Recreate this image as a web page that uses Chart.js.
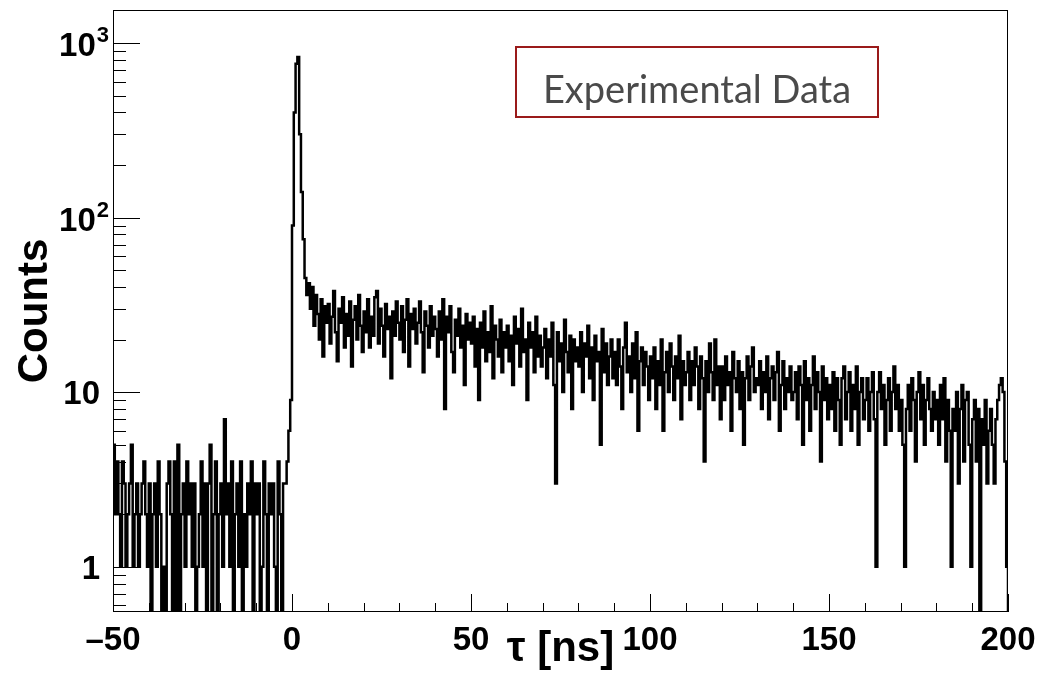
<!DOCTYPE html>
<html lang="en">
<head>
    <meta charset="UTF-8">
    <script src="https://cdn.jsdelivr.net/npm/chart.js"></script>
    <title>Lifetime spectrum</title>
    <style>
        body { margin: 0; background: #fff; }
        #grafico { display: block; }
    </style>
</head>
<body>
    <canvas id="grafico" width="1039" height="675"></canvas>
<script>
    // histogram: 0.5 ns bins from -50 ns to 200 ns
    const binStart = -50;
    const binWidth = 0.5;

    // -50 .. 0 ns
    const countsPre = [
        5, 2, 4, 2, 1, 4, 3, 1, 2, 3, 5, 1, 2, 3, 1, 2, 3, 4, 2, 1,
        3, 0, 2, 3, 1, 4, 2, 0, 1, 0, 3, 4, 2, 0, 4, 0, 5, 0, 2, 3,
        1, 4, 2, 3, 1, 3, 0, 1, 2, 4, 1, 3, 0, 3, 5, 0, 2, 4, 0, 2,
        3, 1, 7, 2, 3, 1, 4, 0, 2, 3, 1, 4, 0, 2, 1, 3, 2, 4, 0, 3,
        2, 3, 0, 1, 4, 2, 0, 3, 2, 3, 1, 0, 4, 2, 0, 3, 3, 4, 6, 9
    ];
    // 0 .. 10 ns
    const countsPeak = [
        90, 400, 760, 830, 300, 140, 75, 45, 36, 42, 30, 40, 24, 36, 28, 20, 34, 16, 31, 25
    ];
    // 10 .. 200 ns, one line per 10 ns
    const countsTail = [
        32, 19, 27, 38, 22, 15, 30, 25, 35, 18, 28, 21, 33, 14, 26, 31, 20, 36, 24, 17,
        29, 22, 34, 18, 27, 21, 35, 38, 19, 30, 24, 16, 32, 23, 27, 12, 29, 21, 33, 25,
        20, 31, 17, 26, 34, 14, 28, 23, 30, 19, 25, 33, 22, 13, 29, 24, 18, 31, 21, 27,
        23, 16, 29, 20, 34, 8, 27, 22, 31, 17, 13, 26, 21, 30, 18, 24, 11, 28, 20, 25,
        19, 27, 14, 23, 9, 25, 18, 29, 15, 22, 17, 31, 12, 24, 20, 16, 26, 13, 22, 18,
        24, 15, 21, 11, 27, 19, 23, 14, 30, 17, 20, 9, 25, 18, 22, 13, 27, 16, 21, 14,
        18, 23, 12, 20, 16, 25, 11, 3, 22, 15, 19, 10, 26, 17, 13, 21, 8, 20, 15, 18,
        14, 22, 10, 19, 16, 24, 12, 18, 9, 21, 15, 17, 5, 23, 13, 19, 11, 16, 20, 12,
        17, 11, 20, 14, 8, 18, 25, 13, 16, 10, 19, 12, 22, 6, 15, 18, 11, 17, 14, 9,
        16, 12, 18, 8, 15, 11, 20, 6, 13, 17, 10, 19, 14, 9, 16, 12, 21, 7, 15, 11,
        13, 17, 9, 15, 11, 18, 14, 8, 16, 12, 4, 15, 10, 19, 13, 9, 20, 11, 14, 7,
        14, 9, 16, 11, 13, 6, 17, 12, 10, 15, 8, 13, 5, 12, 16, 9, 14, 18, 10, 12,
        11, 15, 8, 13, 10, 16, 7, 12, 14, 9, 13, 17, 6, 11, 15, 8, 12, 10, 14, 9,
        10, 13, 7, 14, 11, 5, 15, 9, 12, 6, 11, 16, 8, 13, 10, 4, 14, 9, 12, 7,
        11, 8, 13, 6, 12, 9, 5, 12, 14, 7, 10, 13, 6, 11, 8, 14, 5, 10, 12, 7,
        9, 12, 6, 10, 13, 7, 1, 10, 13, 8, 11, 5, 9, 12, 6, 10, 14, 8, 11, 6,
        9, 5, 1, 8, 11, 6, 12, 9, 4, 10, 13, 7, 11, 5, 9, 12, 8, 6, 10, 7,
        9, 5, 11, 7, 12, 4, 9, 6, 1, 8, 6, 10, 3, 8, 11, 4, 9, 10, 5, 1,
        7, 9, 4, 8, 0, 7, 5, 9, 3, 6, 8, 5, 3, 7, 9, 11, 12, 10, 4, 1
    ];

    const xMin = -50, xMax = 200;
    const xMajorStep = 50, xMinorStep = 10;
    const yMin = 0.55, yMax = 1545;
    const yTicks = [1, 10, 100, 1000];
    const yTickBase = ['1', '10', '10', '10'];
    const yTickExp = ['', '', '2', '3'];
    const legendText = 'Experimental Data';

    const counts = countsPre.concat(countsPeak, countsTail);

    // empty bins are drawn down to the bottom of the frame, like ROOT does
    let pontos = counts.map(function (c, i) {
        return { x: binStart + i * binWidth, y: c > 0 ? c : yMin };
    });
    pontos.push({ x: binStart + counts.length * binWidth, y: yMin });

    const fonteEixo = { family: 'Liberation Sans', weight: 'bold', size: 33 };
    const fonteTitulo = { family: 'Liberation Sans', weight: 'bold', size: 42 };

    // ticks inside the frame, frame, y labels with exponents and the text box
    const estiloRoot = {
        id: 'estiloRoot',
        afterDraw(chart) {
            const ctx = chart.ctx;
            const a = chart.chartArea;
            const sx = chart.scales.x;
            const sy = chart.scales.y;
            ctx.save();
            ctx.strokeStyle = '#000';
            ctx.lineWidth = 1;
            ctx.beginPath();
            for (let v = xMin; v <= xMax; v += xMinorStep) {
                const px = Math.round(sx.getPixelForValue(v)) + 0.5;
                const len = (v % xMajorStep === 0) ? 18 : 9;
                ctx.moveTo(px, a.bottom);
                ctx.lineTo(px, a.bottom - len);
            }
            for (let d = -1; d <= 3; d++) {
                for (let m = 1; m <= 9; m++) {
                    const v = m * Math.pow(10, d);
                    if (v < yMin || v > yMax) continue;
                    const py = Math.round(sy.getPixelForValue(v)) + 0.5;
                    ctx.moveTo(a.left, py);
                    ctx.lineTo(a.left + (m === 1 ? 27 : 13), py);
                }
            }
            ctx.stroke();
            ctx.strokeRect(a.left + 0.5, a.top + 0.5, a.right - a.left - 1, a.bottom - a.top - 1);

            // y labels: base plus raised exponent
            ctx.fillStyle = '#000';
            ctx.textAlign = 'right';
            ctx.textBaseline = 'alphabetic';
            yTicks.forEach(function (v, i) {
                const py = sy.getPixelForValue(v);
                if (!yTickExp[i]) {
                    ctx.font = 'bold 33px "Liberation Sans"';
                    ctx.fillText(yTickBase[i], a.left - 13, py + 12);
                } else {
                    ctx.font = 'bold 22px "Liberation Sans"';
                    const ew = ctx.measureText(yTickExp[i]).width;
                    ctx.fillText(yTickExp[i], a.left - 4, py - 1);
                    ctx.font = 'bold 33px "Liberation Sans"';
                    ctx.fillText(yTickBase[i], a.left - 5 - ew, py + 13);
                }
            });

            // text box
            const bx = 516, by = 47, bw = 362, bh = 70;
            ctx.fillStyle = '#fff';
            ctx.fillRect(bx, by, bw, bh);
            ctx.strokeStyle = '#9a1a1a';
            ctx.lineWidth = 2;
            ctx.strokeRect(bx, by, bw, bh);
            ctx.fillStyle = '#4a4a4a';
            ctx.font = '38px Lato';
            ctx.textAlign = 'center';
            ctx.textBaseline = 'alphabetic';
            ctx.fillText(legendText, bx + bw / 2, 103);
            ctx.restore();
        }
    };

    const config = {
        type: 'line',
        data: {
            datasets: [{
                label: legendText,
                data: pontos,
                borderColor: '#000',
                borderWidth: 2.5,
                pointRadius: 0,
                stepped: true,
                fill: false,
                tension: 0
            }]
        },
        options: {
            responsive: false,
            animation: false,
            devicePixelRatio: 1,
            layout: { padding: { top: 10, right: 31, left: 0, bottom: 0 } },
            plugins: {
                legend: { display: false },
                tooltip: { enabled: false }
            },
            scales: {
                x: {
                    type: 'linear',
                    min: xMin,
                    max: xMax,
                    afterBuildTicks: function (scale) {
                        let t = [];
                        for (let v = xMin; v <= xMax; v += xMajorStep) t.push({ value: v });
                        scale.ticks = t;
                    },
                    afterFit: function (scale) {
                        scale.height = 63;
                        scale.paddingLeft = 0;
                        scale.paddingRight = 0;
                    },
                    grid: { display: false, drawTicks: false },
                    border: { display: false },
                    ticks: {
                        autoSkip: false,
                        maxRotation: 0,
                        padding: 9,
                        color: '#000',
                        font: fonteEixo,
                        callback: function (v) { return v < 0 ? '\u2013' + Math.abs(v) : String(v); }
                    },
                    title: {
                        display: true,
                        text: '\u03C4 [ns]',
                        color: '#000',
                        font: fonteTitulo,
                        padding: { top: 0, bottom: 0 }
                    }
                },
                y: {
                    type: 'logarithmic',
                    min: yMin,
                    max: yMax,
                    afterBuildTicks: function (scale) {
                        scale.ticks = yTicks.map(function (v) { return { value: v }; });
                    },
                    afterFit: function (scale) {
                        scale.width = 113;
                        scale.paddingTop = 0;
                        scale.paddingBottom = 0;
                    },
                    grid: { display: false, drawTicks: false },
                    border: { display: false },
                    ticks: { display: false },
                    title: {
                        display: true,
                        text: 'Counts',
                        color: '#000',
                        font: fonteTitulo,
                        padding: { top: 10, bottom: 0 }
                    }
                }
            }
        },
        plugins: [estiloRoot]
    };

    let myChart = new Chart(document.getElementById('grafico'), config);
</script>
</body>
</html>
